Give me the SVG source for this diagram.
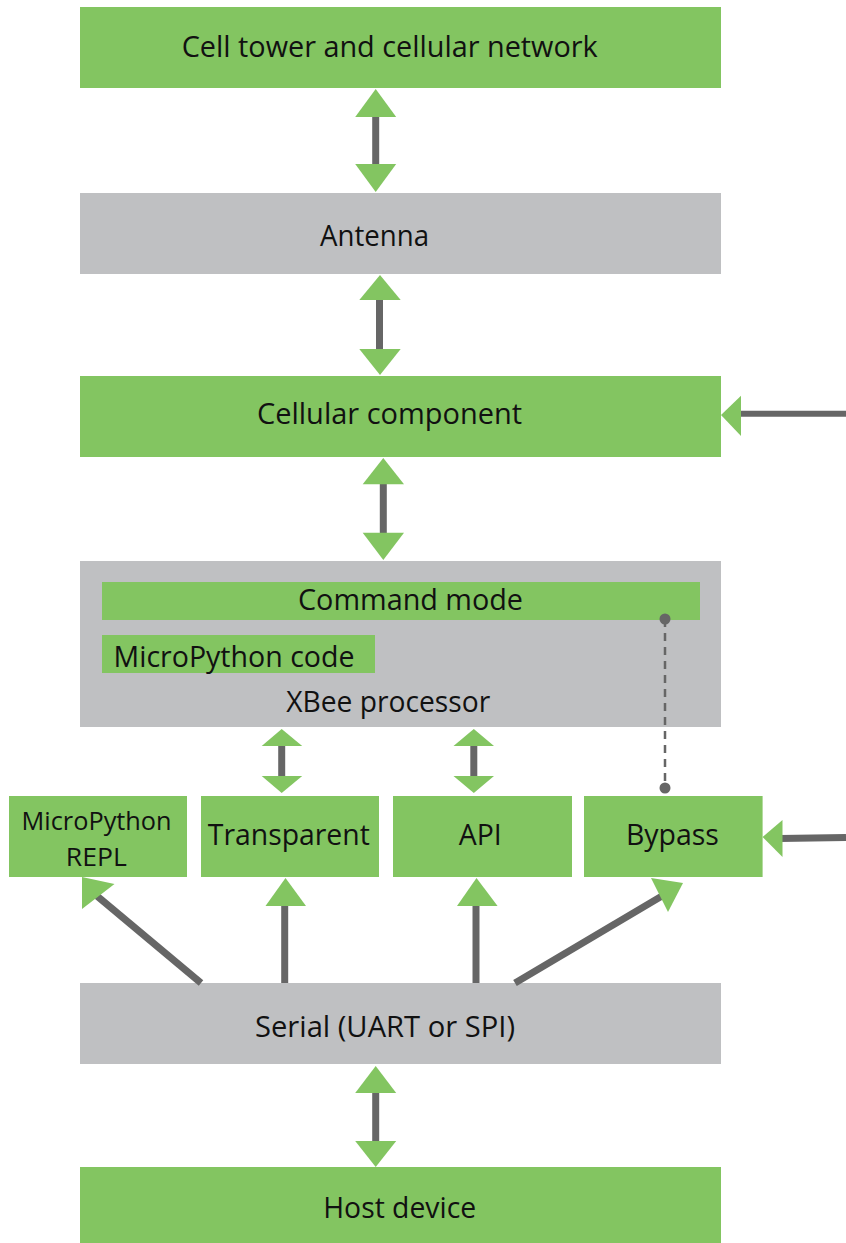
<svg xmlns="http://www.w3.org/2000/svg" width="846" height="1243" viewBox="0 0 846 1243">
<style>
.g{fill:#83c561}
.k{fill:#bfc0c2}
.t{font-family:"Open Sans","Noto Sans",sans-serif;font-size:30px;fill:#111;text-anchor:middle}
.s{font-family:"Open Sans","Noto Sans",sans-serif;font-size:26px;fill:#111;text-anchor:middle}
.ln{stroke:#666;stroke-width:7;fill:none}
.hd{fill:#83c561}
</style>
<rect width="846" height="1243" fill="#fff"/>
<g id="cell-tower">
  <rect class="g" x="80" y="7" width="641" height="81"/>
  <text class="t" x="389.7" y="57" textLength="416" lengthAdjust="spacingAndGlyphs">Cell tower and cellular network</text>
</g>
<g id="antenna">
  <rect class="k" x="80" y="193" width="641" height="81"/>
  <text class="t" x="374.5" y="246" textLength="109" lengthAdjust="spacingAndGlyphs">Antenna</text>
</g>
<g id="cellular-component">
  <rect class="g" x="80" y="376" width="641" height="81"/>
  <text class="t" x="389.5" y="424" textLength="265" lengthAdjust="spacingAndGlyphs">Cellular component</text>
</g>
<g id="xbee-processor">
  <rect class="k" x="80" y="561" width="641" height="166"/>
  <text class="t" x="388.2" y="712" textLength="204" lengthAdjust="spacingAndGlyphs">XBee processor</text>
</g>
<g id="command-mode">
  <rect class="g" x="102" y="582" width="598" height="38"/>
  <text class="t" x="410.5" y="609.5" textLength="225" lengthAdjust="spacingAndGlyphs">Command mode</text>
</g>
<g id="micropython-code">
  <rect class="g" x="102" y="635" width="273" height="38"/>
  <text class="t" x="234" y="667" textLength="241" lengthAdjust="spacingAndGlyphs">MicroPython code</text>
</g>
<g id="micropython-repl">
  <rect class="g" x="9" y="796" width="178" height="81"/>
  <text class="s" x="96.6" y="829.5" textLength="150" lengthAdjust="spacingAndGlyphs">MicroPython</text>
  <text class="s" x="96.3" y="866" textLength="61" lengthAdjust="spacingAndGlyphs">REPL</text>
</g>
<g id="transparent">
  <rect class="g" x="201" y="796" width="178" height="81"/>
  <text class="t" x="288.8" y="844.5" textLength="162" lengthAdjust="spacingAndGlyphs">Transparent</text>
</g>
<g id="api">
  <rect class="g" x="393" y="796" width="179" height="81"/>
  <text class="t" x="480.3" y="844.5" textLength="43" lengthAdjust="spacingAndGlyphs">API</text>
</g>
<g id="bypass">
  <rect class="g" x="584" y="796" width="178.6" height="81"/>
  <text class="t" x="672.4" y="844.5" textLength="93" lengthAdjust="spacingAndGlyphs">Bypass</text>
</g>
<g id="serial">
  <rect class="k" x="80" y="983" width="641" height="81"/>
  <text class="t" x="385" y="1037" textLength="260" lengthAdjust="spacingAndGlyphs">Serial (UART or SPI)</text>
</g>
<g id="host-device">
  <rect class="g" x="80" y="1167" width="641" height="81"/>
  <text class="t" x="399.7" y="1218.3" textLength="153" lengthAdjust="spacingAndGlyphs">Host device</text>
</g>
<g id="connectors">
  <line class="ln" x1="375.7" y1="115" x2="375.7" y2="166"/>
  <polygon class="hd" points="375.7,89 355.2,117 396.2,117"/>
  <polygon class="hd" points="375.7,192 355.2,164 396.2,164"/>
  <line class="ln" x1="379.5" y1="298" x2="379.5" y2="351"/>
  <polygon class="hd" points="380,275 359.3,300 400.7,300"/>
  <polygon class="hd" points="380,375 359.3,349 400.7,349"/>
  <line class="ln" x1="383.3" y1="482" x2="383.3" y2="535"/>
  <polygon class="hd" points="383.3,458 362.7,484.3 404,484.3"/>
  <polygon class="hd" points="383.3,560 362.7,532.7 404,532.7"/>
  <line x1="739" y1="413.7" x2="846" y2="413.7" stroke="#666" stroke-width="6"/>
  <polygon class="hd" points="721,415 741,395.7 741,436"/>
  <line class="ln" x1="281.7" y1="744" x2="281.7" y2="778"/>
  <polygon class="hd" points="281.7,729 261.7,746 302.2,746"/>
  <polygon class="hd" points="281.7,793 261.7,776 302.2,776"/>
  <line class="ln" x1="473.8" y1="744" x2="473.8" y2="778"/>
  <polygon class="hd" points="473.8,729 453.5,746 494,746"/>
  <polygon class="hd" points="473.8,793 453.5,776 494,776"/>
  <line x1="665" y1="619" x2="665" y2="788" stroke="#666" stroke-width="2.5" stroke-dasharray="8,6"/>
  <circle cx="665" cy="619" r="5.5" fill="#666"/>
  <circle cx="665" cy="788" r="5.5" fill="#666"/>
  <line x1="780" y1="838.5" x2="846" y2="837.5" stroke="#666" stroke-width="7"/>
  <polygon class="hd" points="762.6,837 782.5,820 782.5,857"/>
  <line class="ln" x1="201" y1="983" x2="97" y2="896"/>
  <polygon class="hd" points="82,877 114.5,884 82,909"/>
  <line class="ln" x1="284.7" y1="983" x2="284.7" y2="904"/>
  <polygon class="hd" points="285.5,878 265.5,906 306,906"/>
  <line class="ln" x1="476" y1="983" x2="476" y2="904"/>
  <polygon class="hd" points="476.5,878 457,906 497.6,906"/>
  <line class="ln" x1="515" y1="983" x2="662" y2="896"/>
  <polygon class="hd" points="651,878 683,883 668,912"/>
  <line class="ln" x1="375.7" y1="1091" x2="375.7" y2="1143"/>
  <polygon class="hd" points="375.7,1066 355.2,1093 396.2,1093"/>
  <polygon class="hd" points="375.7,1167 355.2,1141 396.2,1141"/>
</g>
</svg>
